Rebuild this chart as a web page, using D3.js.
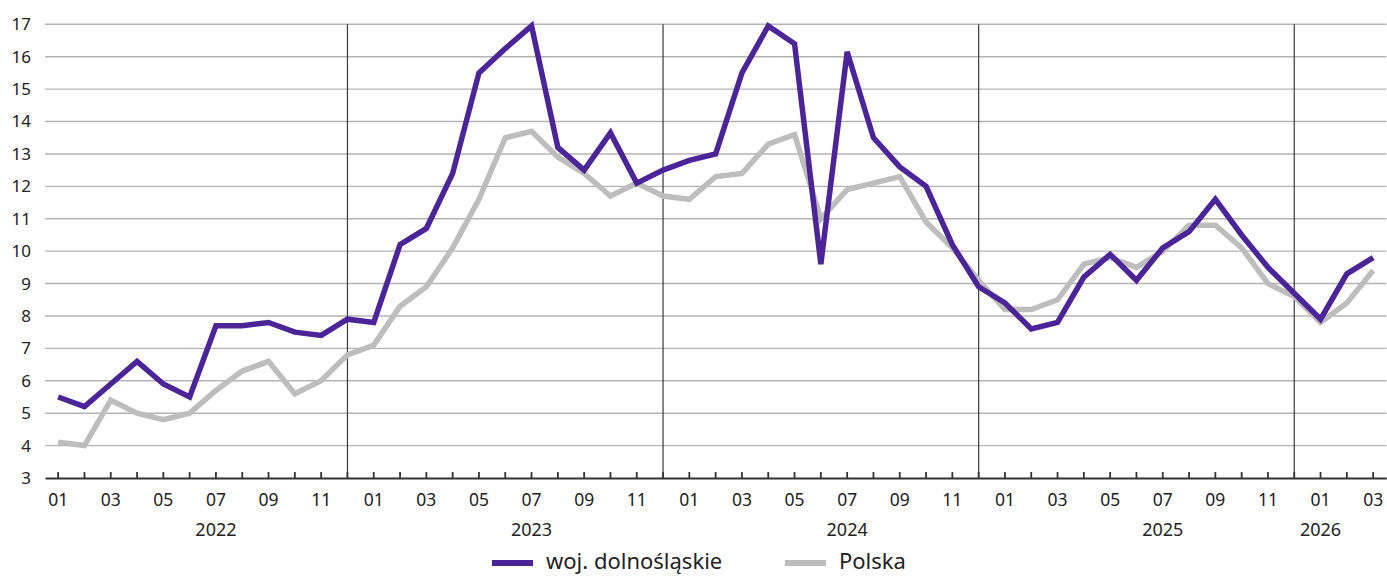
<!DOCTYPE html>
<html><head><meta charset="utf-8">
<script src="https://cdn.jsdelivr.net/npm/d3@7"></script>
<style>
html,body{margin:0;padding:0;background:#fff;}
svg{display:block;font-family:"Noto Sans",sans-serif;}
</style></head>
<body><svg id="c" width="1387" height="577"></svg>
<script>
const months = ["2022-01","2022-02","2022-03","2022-04","2022-05","2022-06","2022-07","2022-08","2022-09","2022-10","2022-11","2022-12",
"2023-01","2023-02","2023-03","2023-04","2023-05","2023-06","2023-07","2023-08","2023-09","2023-10","2023-11","2023-12",
"2024-01","2024-02","2024-03","2024-04","2024-05","2024-06","2024-07","2024-08","2024-09","2024-10","2024-11","2024-12",
"2025-01","2025-02","2025-03","2025-04","2025-05","2025-06","2025-07","2025-08","2025-09","2025-10","2025-11","2025-12",
"2026-01","2026-02","2026-03"];
const dolnoslaskie = [5.5,5.2,5.9,6.6,5.9,5.5,7.7,7.7,7.8,7.5,7.4,7.9,
7.8,10.2,10.7,12.4,15.5,16.25,16.95,13.2,12.5,13.65,12.1,12.5,
12.8,13.0,15.5,16.95,16.4,9.6,16.15,13.5,12.6,12.0,10.2,8.9,
8.4,7.6,7.8,9.2,9.9,9.1,10.1,10.6,11.6,10.5,9.5,8.7,
7.9,9.3,9.8];
const polska = [4.1,4.0,5.4,5.0,4.8,5.0,5.7,6.3,6.6,5.6,6.0,6.8,
7.1,8.3,8.9,10.1,11.6,13.5,13.7,12.9,12.4,11.7,12.1,11.7,
11.6,12.3,12.4,13.3,13.6,11.0,11.9,12.1,12.3,10.9,10.1,9.1,
8.2,8.2,8.5,9.6,9.8,9.5,10.0,10.8,10.8,10.1,9.0,8.6,
7.8,8.4,9.4];
const yTicks = [3,4,5,6,7,8,9,10,11,12,13,14,15,16,17];
const yearLabels = [{label:"2022", at:"2022-07"},{label:"2023", at:"2023-07"},{label:"2024", at:"2024-07"},{label:"2025", at:"2025-07"},{label:"2026", at:"2026-01"}];
const seriesNames = ["woj. dolnośląskie","Polska"];
const seriesColors = ["#4b2597","#bdbdbd"];

const svg = d3.select("#c");
const x = d3.scaleLinear().domain([-0.5, months.length - 0.5]).range([45, 1386.3]);
const y = d3.scaleLinear().domain([3, 17]).range([478, 24.3]);

// gridlines
svg.append("g").selectAll("line").data(yTicks.filter(v=>v>3)).join("line")
  .attr("x1", x(-0.5)).attr("x2", x(months.length-0.5))
  .attr("y1", d=>y(d)).attr("y2", d=>y(d))
  .attr("stroke","#b4b4b4").attr("stroke-width",1.4);

// y axis labels
const yAxis = d3.axisLeft(y).tickValues(yTicks).tickSize(0).tickPadding(0).tickFormat(d3.format("d"));
const ya = svg.append("g").attr("transform","translate(31,0)").call(yAxis);
ya.select(".domain").remove();
ya.selectAll("text").attr("font-size",17).attr("fill","#222").attr("font-family","Noto Sans");

// year separators (December)
const decIdx = months.map((m,i)=>m.endsWith("-12")?i:-1).filter(i=>i>=0);
svg.append("g").selectAll("line").data(decIdx).join("line")
  .attr("x1",d=>x(d)).attr("x2",d=>x(d)).attr("y1",y(17)).attr("y2",y(3))
  .attr("stroke","#3a3a3a").attr("stroke-width",1.2);

// x axis
const xAxis = d3.axisBottom(x).tickValues(d3.range(months.length)).tickSize(0).tickFormat("");
const xa = svg.append("g").attr("transform",`translate(0,${y(3)})`).call(xAxis);
xa.select(".domain").attr("stroke","#333").attr("stroke-width",2.2);
// upward tick marks
svg.append("g").selectAll("line").data(d3.range(months.length)).join("line")
  .attr("x1",d=>x(d)).attr("x2",d=>x(d)).attr("y1",y(3)-6).attr("y2",y(3))
  .attr("stroke","#333").attr("stroke-width",1.8);
// month labels
svg.append("g").selectAll("text").data(months.map((m,i)=>({m,i})).filter(d=>(+d.m.slice(5))%2===1)).join("text")
  .attr("x",d=>x(d.i)).attr("y",506).attr("text-anchor","middle")
  .attr("font-size",17.5).attr("fill","#222").text(d=>d.m.slice(5));
// year labels
svg.append("g").selectAll("text").data(yearLabels).join("text")
  .attr("x",d=>x(months.indexOf(d.at))).attr("y",536).attr("text-anchor","middle")
  .attr("font-size",18).attr("fill","#222").text(d=>d.label);

// lines
const line = d3.line().x((d,i)=>x(i)).y(d=>y(d));
[polska, dolnoslaskie].forEach((s,k)=>{
  svg.append("path").datum(s).attr("d",line).attr("fill","none")
    .attr("stroke", k===0?seriesColors[1]:seriesColors[0]).attr("stroke-width",5.5)
    .attr("stroke-linejoin","miter").attr("stroke-miterlimit",3);
});

// legend
const lg = svg.append("g");
const legendX = [492, 785];
seriesNames.forEach((n,i)=>{
  lg.append("line").attr("x1",legendX[i]).attr("x2",legendX[i]+41).attr("y1",563).attr("y2",563)
    .attr("stroke",seriesColors[i]).attr("stroke-width",6);
  lg.append("text").attr("x",legendX[i]+54).attr("y",569).attr("font-size",22).attr("fill","#222").text(n);
});
</script></body></html>
